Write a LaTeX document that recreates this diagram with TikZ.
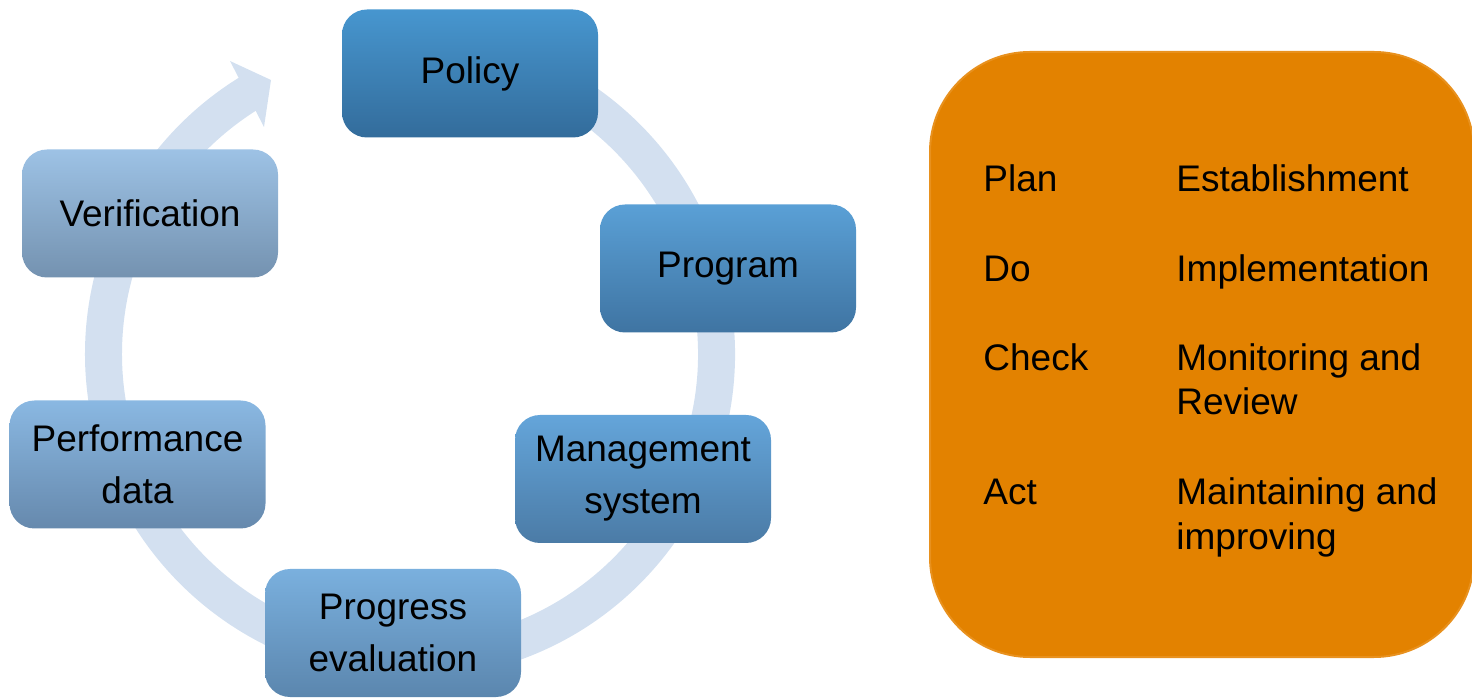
\documentclass[tikz,border=0pt]{standalone}
\usepackage{fontspec}
\setmainfont{Liberation Sans}
\definecolor{ringc}{RGB}{211,224,240}
\definecolor{polA}{HTML}{4796CF}\definecolor{polB}{HTML}{336C9B}
\definecolor{proA}{HTML}{5AA0D6}\definecolor{proB}{HTML}{3F74A2}
\definecolor{manA}{HTML}{64A5DA}\definecolor{manB}{HTML}{4B7BA6}
\definecolor{prgA}{HTML}{7AB0DE}\definecolor{prgB}{HTML}{5B86AE}
\definecolor{perA}{HTML}{8AB8E2}\definecolor{perB}{HTML}{6689AD}
\definecolor{verA}{HTML}{9DC2E5}\definecolor{verB}{HTML}{7492B0}
\definecolor{orA}{RGB}{227,130,0}
\definecolor{orB}{RGB}{232,145,30}
\begin{document}
\begin{tikzpicture}[x=0.5pt,y=-0.5pt,
  box/.style={rounded corners=12.5pt, minimum width=128pt, minimum height=64pt,
    inner sep=0pt, align=center, font=\fontsize{18.5}{26}\selectfont, text=black},
  lbl/.style={inner sep=0pt, anchor=base west, font=\fontsize{18.5}{22}\selectfont, text=black},
  ring/.style={draw=ringc, line width=18.5pt, line cap=butt}]
\useasboundingbox (0,0) rectangle (1472,699);
% ring
\coordinate (c) at (410,354);
\draw[ring] ([shift={(100:153.25pt)}]c)
  arc[start angle=100, end angle=-239, radius=153.25pt];
\coordinate (h1) at (230,61);
\coordinate (h2) at (271,80);
\coordinate (h3) at (264,127);
\fill[ringc] (h1) -- (h2) -- (h3) -- cycle;
% boxes
\node[box, top color=polA, bottom color=polB] (policy) at (470,73.5) {Policy};
\node[box, top color=proA, bottom color=proB] (program) at (728,268.5) {Program};
\node[box, top color=manA, bottom color=manB] (mgmt) at (643,479) {Management\\system};
\node[box, top color=prgA, bottom color=prgB] (progress) at (393,633) {Progress\\evaluation};
\node[box, top color=perA, bottom color=perB] (perf) at (137.5,464.5) {Performance\\data};
\node[box, top color=verA, bottom color=verB] (verif) at (150,213.5) {Verification};
% PDCA panel
\node[draw=orB, line width=1pt, fill=orA, rounded corners=50pt,
  minimum width=272pt, minimum height=302.5pt, inner sep=0pt] (pdca) at (1202,354.5) {};
\node[lbl] (plan) at (983,191.5) {Plan};
\node[lbl] (do) at (983,281.5) {Do};
\node[lbl] (check) at (983,370.5) {Check};
\node[lbl] (act) at (983,504.5) {Act};
\node[lbl] (est) at (1176,191.5) {Establishment};
\node[lbl] (impl) at (1176,281.5) {Implementation};
\node[lbl] (mon) at (1176,370.5) {Monitoring and};
\node[lbl] (rev) at (1176,414.5) {Review};
\node[lbl] (main) at (1176,504.5) {Maintaining and};
\node[lbl] (impr) at (1176,549.5) {improving};
\end{tikzpicture}
\end{document}
